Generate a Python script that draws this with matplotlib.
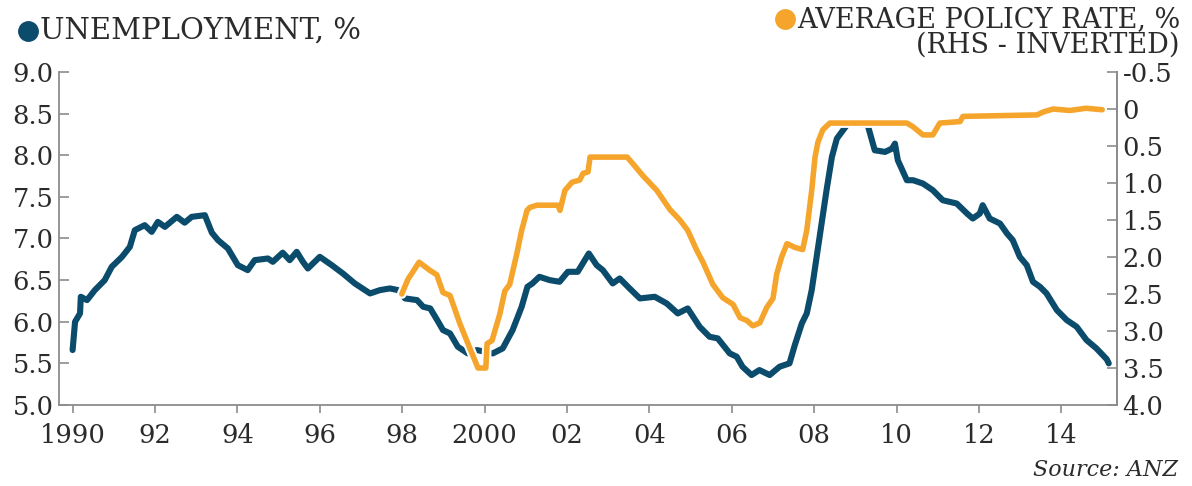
import matplotlib
matplotlib.use("Agg")
import matplotlib.pyplot as plt
import matplotlib.patheffects as pe
from matplotlib.lines import Line2D

# Unemployment rate, % (decimal years)
unemp_years = [1990.0, 1990.06, 1990.18, 1990.2, 1990.35, 1990.54, 1990.78, 1990.95,
               1991.2, 1991.39, 1991.51, 1991.75, 1991.92, 1992.07, 1992.24, 1992.53,
               1992.72, 1992.89, 1993.21, 1993.38, 1993.53, 1993.77, 1994.01, 1994.25,
               1994.42, 1994.74, 1994.86, 1995.1, 1995.27, 1995.44, 1995.59, 1995.71,
               1996.0, 1996.29, 1996.56, 1996.85, 1997.22, 1997.46, 1997.7, 1997.9,
               1998.07, 1998.36, 1998.51, 1998.68, 1998.85, 1998.99, 1999.16, 1999.35,
               1999.59, 1999.81, 2000.2, 2000.44, 2000.68, 2000.9, 2001.04, 2001.16,
               2001.33, 2001.58, 2001.82, 2002.02, 2002.26, 2002.53, 2002.72, 2002.87,
               2003.11, 2003.28, 2003.52, 2003.77, 2004.13, 2004.42, 2004.69, 2004.93,
               2005.22, 2005.46, 2005.66, 2005.95, 2006.12, 2006.26, 2006.48, 2006.67,
               2006.92, 2007.16, 2007.4, 2007.53, 2007.7, 2007.82, 2007.94, 2008.06,
               2008.18, 2008.3, 2008.43, 2008.55, 2008.79, 2008.87, 2009.04, 2009.3,
               2009.47, 2009.72, 2009.89, 2009.96, 2010.03, 2010.25, 2010.4, 2010.64,
               2010.88, 2011.12, 2011.46, 2011.71, 2011.85, 2012.02, 2012.09, 2012.26,
               2012.51, 2012.68, 2012.82, 2012.99, 2013.16, 2013.31, 2013.48, 2013.64,
               2013.89, 2014.13, 2014.37, 2014.61, 2014.85, 2015.1, 2015.15]
unemp_rate = [5.66, 6.0, 6.1, 6.3, 6.26, 6.38, 6.5, 6.66,
              6.78, 6.9, 7.1, 7.16, 7.08, 7.2, 7.14, 7.26,
              7.19, 7.26, 7.28, 7.07, 6.98, 6.88, 6.68, 6.62,
              6.74, 6.76, 6.72, 6.83, 6.74, 6.84, 6.72, 6.64,
              6.78, 6.68, 6.58, 6.46, 6.34, 6.38, 6.4, 6.38,
              6.28, 6.26, 6.18, 6.16, 6.02, 5.9, 5.86, 5.7,
              5.62, 5.66, 5.62, 5.68, 5.9, 6.18, 6.42, 6.46,
              6.54, 6.5, 6.48, 6.6, 6.6, 6.82, 6.68, 6.62,
              6.46, 6.52, 6.4, 6.28, 6.3, 6.22, 6.1, 6.16,
              5.94, 5.82, 5.8, 5.62, 5.58, 5.46, 5.36, 5.42,
              5.36, 5.46, 5.5, 5.72, 5.98, 6.1, 6.38, 6.78,
              7.18, 7.58, 7.98, 8.2, 8.36, 8.4, 8.38, 8.36,
              8.06, 8.04, 8.08, 8.14, 7.94, 7.7, 7.7, 7.66,
              7.58, 7.46, 7.42, 7.3, 7.24, 7.3, 7.4, 7.24,
              7.18, 7.06, 6.98, 6.78, 6.68, 6.48, 6.42, 6.34,
              6.14, 6.02, 5.94, 5.78, 5.68, 5.55, 5.5]

# Average policy rate, % (right-hand axis, inverted)
policy_years = [1997.99, 1998.14, 1998.26, 1998.41, 1998.67, 1998.84, 1998.99, 1999.16,
                1999.4, 1999.64, 1999.84, 2000.03, 2000.06, 2000.18, 2000.37, 2000.49,
                2000.61, 2000.78, 2000.9, 2001.03, 2001.1, 2001.27, 2001.78, 2001.83,
                2001.95, 2002.12, 2002.31, 2002.39, 2002.51, 2002.56, 2003.46, 2003.6,
                2003.84, 2004.18, 2004.5, 2004.74, 2004.93, 2005.15, 2005.3, 2005.54,
                2005.78, 2006.03, 2006.2, 2006.37, 2006.51, 2006.68, 2006.85, 2007.0,
                2007.09, 2007.21, 2007.34, 2007.53, 2007.72, 2007.82, 2007.94, 2008.02,
                2008.09, 2008.21, 2008.38, 2010.25, 2010.4, 2010.64, 2010.88, 2011.05,
                2011.54, 2011.61, 2012.5, 2013.41, 2013.56, 2013.8, 2014.2, 2014.6, 2014.99]
policy_rate = [2.5, 2.3, 2.2, 2.07, 2.18, 2.24, 2.48, 2.52,
               2.9, 3.23, 3.5, 3.5, 3.17, 3.13, 2.77, 2.46,
               2.37, 1.96, 1.64, 1.37, 1.33, 1.3, 1.3, 1.37,
               1.1, 0.99, 0.96, 0.87, 0.85, 0.65, 0.65, 0.74,
               0.9, 1.1, 1.36, 1.5, 1.64, 1.91, 2.07, 2.37,
               2.55, 2.64, 2.82, 2.86, 2.93, 2.89, 2.68, 2.56,
               2.23, 2.0, 1.82, 1.87, 1.9, 1.64, 1.1, 0.65,
               0.45, 0.28, 0.19, 0.19, 0.24, 0.35, 0.35, 0.19,
               0.17, 0.1, 0.09, 0.08, 0.04, 0.0, 0.02, -0.01, 0.01]

x_ticks = [1990, 1992, 1994, 1996, 1998, 2000, 2002, 2004, 2006, 2008, 2010, 2012, 2014]
x_labels = ["1990", "92", "94", "96", "98", "2000", "02", "04", "06", "08", "10", "12", "14"]
left_ticks = [5.0, 5.5, 6.0, 6.5, 7.0, 7.5, 8.0, 8.5, 9.0]
right_ticks = [-0.5, 0, 0.5, 1.0, 1.5, 2.0, 2.5, 3.0, 3.5, 4.0]
right_labels = ["-0.5", "0", "0.5", "1.0", "1.5", "2.0", "2.5", "3.0", "3.5", "4.0"]

BLUE = "#0b4b6c"
ORANGE = "#f5a52b"
GREY = "#8c8c8c"
INK = "#2b2b2b"
W, H = 1192, 486

plt.rcParams["font.family"] = ["DejaVu Serif"]

fig = plt.figure(figsize=(W / 100, H / 100), dpi=100)
ax = fig.add_axes([59 / W, 1 - 405 / H, (1117 - 59) / W, (405 - 72) / H])
ax2 = ax.twinx()

ax.plot(unemp_years, unemp_rate, color=BLUE, lw=4.4, solid_joinstyle="round",
        solid_capstyle="round")
ax2.plot(policy_years, policy_rate, color=ORANGE, lw=4.0, solid_joinstyle="round",
         solid_capstyle="round",
         path_effects=[pe.Stroke(linewidth=7.0, foreground="white"), pe.Normal()])

ax.set_xlim(1989.67, 2015.35)
ax.set_ylim(5.0, 9.0)
ax2.set_ylim(4.0, -0.5)

ax.set_xticks(x_ticks)
ax.set_xticklabels(x_labels)
ax.set_yticks(left_ticks)
ax.set_yticklabels([f"{v:.1f}" for v in left_ticks])
ax2.set_yticks(right_ticks)
ax2.set_yticklabels(right_labels)

for a in (ax, ax2):
    a.spines["top"].set_visible(False)
    for s in a.spines.values():
        s.set_color(GREY)
        s.set_linewidth(1.3)
ax2.spines["left"].set_visible(False)
ax2.spines["bottom"].set_visible(False)

ax.tick_params(axis="y", direction="in", length=7, width=1.2, color=GREY,
               labelsize=18.5, labelcolor=INK, pad=4)
ax.tick_params(axis="x", direction="out", length=6, width=1.2, color=GREY,
               labelsize=18.5, labelcolor=INK, pad=7)
ax2.tick_params(axis="y", direction="in", length=7, width=1.2, color=GREY,
                labelsize=18.5, labelcolor=INK, pad=4)

# headings above the plot, each with a coloured dot in front
t1 = fig.text(40 / W, 1 - 31 / H, "UNEMPLOYMENT, %", fontsize=21, color=INK,
              ha="left", va="center")
t2 = fig.text(1180 / W, 1 - 20 / H, "AVERAGE POLICY RATE, %", fontsize=19.5,
              color=INK, ha="right", va="center")
fig.text(1180 / W, 1 - 45 / H, "(RHS - INVERTED)", fontsize=19.5,
         color=INK, ha="right", va="center")

fig.canvas.draw()
renderer = fig.canvas.get_renderer()
for t, col, dy in ((t1, BLUE, 31), (t2, ORANGE, 19)):
    bb = t.get_window_extent(renderer)
    fig.add_artist(Line2D([(bb.x0 - 12) / W], [1 - dy / H], marker="o",
                          markersize=14, color=col, transform=fig.transFigure))

fig.text(1178 / W, 1 - 470 / H, "Source: ANZ", fontsize=16, style="italic",
         color=INK, ha="right", va="center")

fig.savefig("out.png", dpi=100, facecolor="white")
